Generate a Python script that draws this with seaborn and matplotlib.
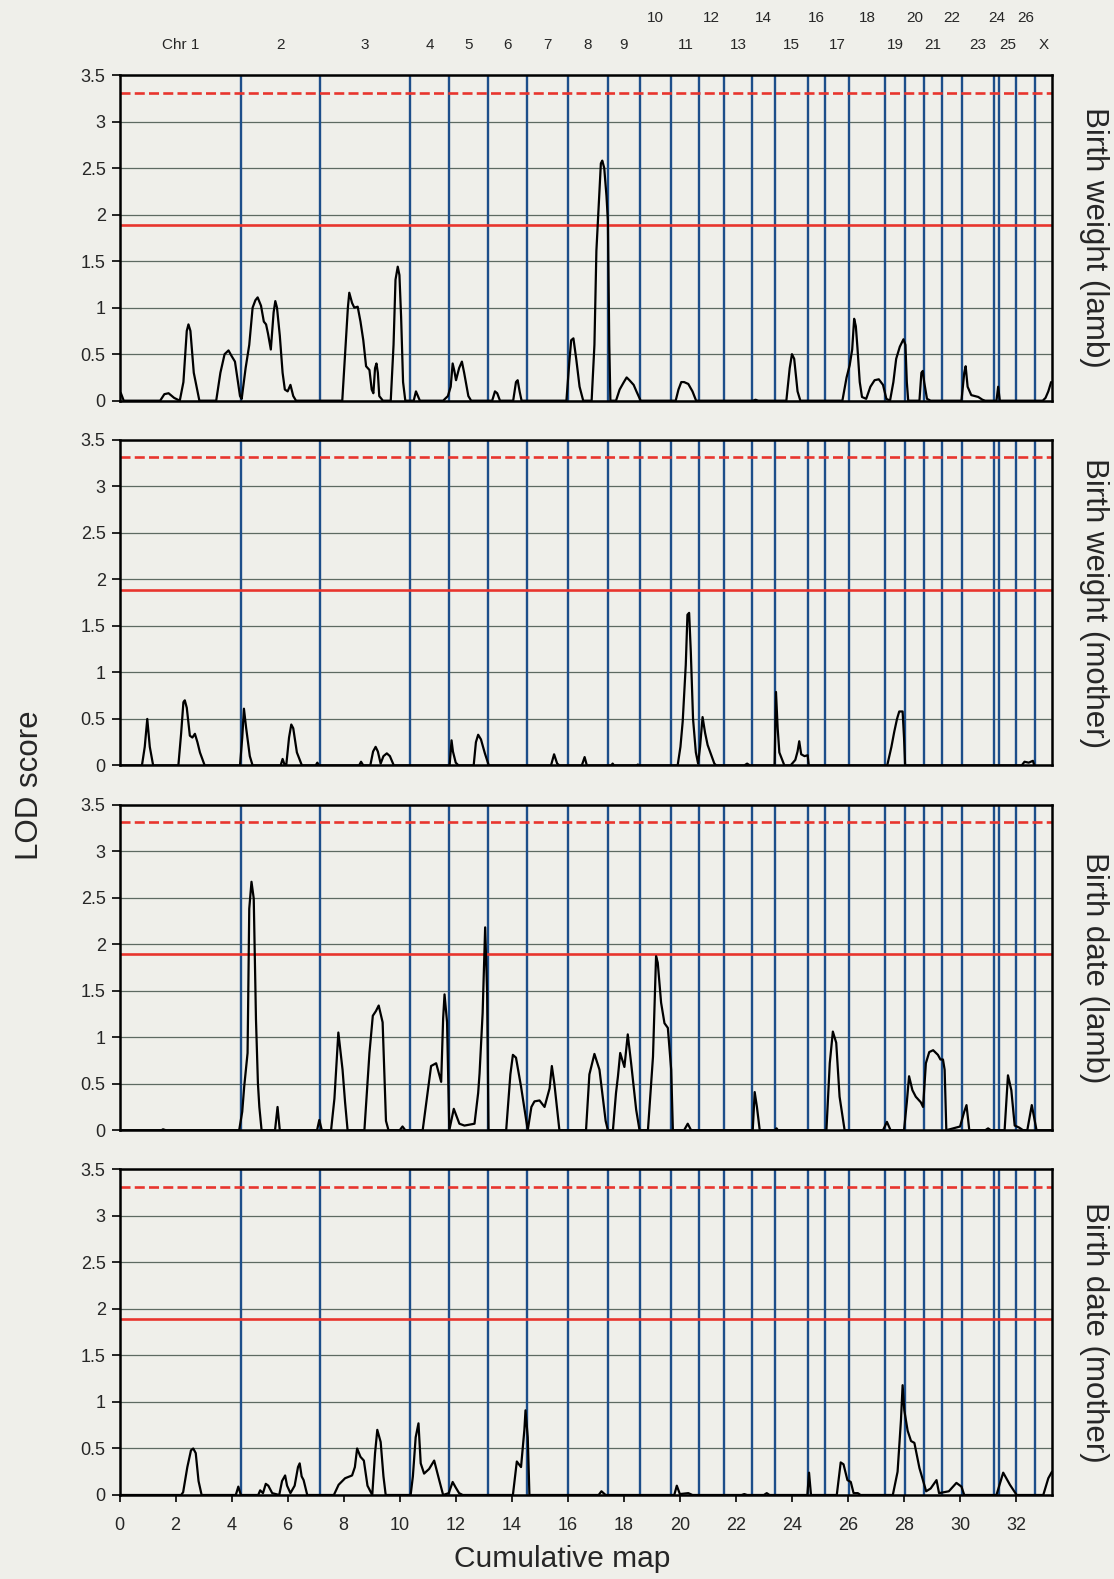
import numpy as np
import pandas as pd
import matplotlib
matplotlib.use("Agg")
import matplotlib.pyplot as plt
import matplotlib.transforms as mtransforms
from matplotlib.ticker import FuncFormatter
import seaborn as sns

# ---------------- data ----------------
chrom_labels = ["Chr 1"] + [str(i) for i in range(2, 27)] + ["X"]
chrom_bounds = [0, 4.33, 7.17, 10.36, 11.77, 13.16, 14.56, 15.99, 17.45, 18.56,
                19.70, 20.69, 21.58, 22.58, 23.40, 24.58, 25.19, 26.04, 27.33,
                28.05, 28.73, 29.34, 30.06, 31.21, 31.39, 31.99, 32.69, 33.28]

traits = ["Birth weight (lamb)", "Birth weight (mother)",
          "Birth date (lamb)", "Birth date (mother)"]

threshold_suggestive = 1.89   # solid red
threshold_significant = 3.31  # dashed red

y_ticks = [0, 0.5, 1, 1.5, 2, 2.5, 3, 3.5]
x_ticks = list(range(0, 33, 2))

lod_bw_lamb = [
    (0, 0.1), (0.05, 0.08), (0.15, 0), (1.45, 0), (1.6, 0.07), (1.75, 0.08), (1.95, 0.03),
    (2.15, 0), (2.28, 0.2), (2.4, 0.75), (2.46, 0.82), (2.53, 0.75), (2.65, 0.3), (2.85, 0),
    (3.45, 0), (3.6, 0.3), (3.75, 0.5), (3.89, 0.54), (4.0, 0.48), (4.12, 0.42), (4.3, 0.05),
    (4.36, 0.02), (4.5, 0.35), (4.63, 0.6), (4.75, 1.0), (4.85, 1.08), (4.93, 1.11), (5.05, 1.02),
    (5.15, 0.85), (5.23, 0.82), (5.3, 0.72), (5.4, 0.55), (5.5, 0.95), (5.56, 1.07), (5.62, 1.0),
    (5.72, 0.7), (5.82, 0.3), (5.9, 0.12), (6.0, 0.1), (6.1, 0.17), (6.2, 0.05), (6.3, 0),
    (7.95, 0), (8.05, 0.5), (8.15, 1.0), (8.2, 1.16), (8.3, 1.05), (8.38, 1.0), (8.5, 1.01),
    (8.6, 0.85), (8.7, 0.65), (8.8, 0.37), (8.92, 0.33), (9.0, 0.12), (9.06, 0.08), (9.12, 0.35),
    (9.17, 0.4), (9.22, 0.3), (9.27, 0.05), (9.4, 0), (9.68, 0), (9.78, 0.6), (9.85, 1.3),
    (9.93, 1.44), (9.99, 1.35), (10.05, 0.9), (10.12, 0.2), (10.2, 0), (10.5, 0), (10.58, 0.1),
    (10.65, 0.05), (10.72, 0), (11.55, 0), (11.72, 0.05), (11.82, 0.15), (11.89, 0.4),
    (11.95, 0.32), (12.01, 0.22), (12.12, 0.35), (12.22, 0.42), (12.3, 0.3), (12.45, 0.05),
    (12.55, 0), (13.3, 0), (13.4, 0.1), (13.48, 0.08), (13.58, 0), (14.05, 0), (14.15, 0.2),
    (14.21, 0.22), (14.28, 0.1), (14.35, 0), (15.95, 0), (16.05, 0.4), (16.12, 0.65),
    (16.2, 0.67), (16.3, 0.45), (16.42, 0.15), (16.55, 0), (16.85, 0), (16.95, 0.6),
    (17.02, 1.61), (17.12, 2.2), (17.18, 2.55), (17.23, 2.58), (17.3, 2.5), (17.38, 2.2),
    (17.43, 1.94), (17.48, 0.6), (17.52, 0), (17.72, 0), (17.85, 0.12), (18.0, 0.2),
    (18.1, 0.25), (18.2, 0.22), (18.35, 0.17), (18.45, 0.1), (18.6, 0), (19.85, 0),
    (19.95, 0.12), (20.05, 0.2), (20.15, 0.2), (20.3, 0.18), (20.45, 0.1), (20.58, 0),
    (22.6, 0), (22.7, 0.01), (22.8, 0), (23.8, 0), (23.92, 0.35), (24.0, 0.5), (24.08, 0.45),
    (24.2, 0.1), (24.3, 0), (25.8, 0), (25.95, 0.25), (26.06, 0.38), (26.15, 0.55),
    (26.22, 0.88), (26.28, 0.8), (26.34, 0.56), (26.42, 0.2), (26.5, 0.04), (26.65, 0.02),
    (26.8, 0.15), (26.95, 0.22), (27.1, 0.23), (27.25, 0.17), (27.37, 0.02), (27.5, 0),
    (27.62, 0.2), (27.72, 0.45), (27.85, 0.58), (27.98, 0.66), (28.05, 0.6), (28.1, 0.2),
    (28.15, 0), (28.55, 0), (28.62, 0.3), (28.67, 0.32), (28.72, 0.2), (28.82, 0.02),
    (28.95, 0), (30.05, 0), (30.15, 0.3), (30.2, 0.37), (30.27, 0.15), (30.4, 0.06),
    (30.65, 0.04), (30.8, 0.01), (30.9, 0), (31.3, 0), (31.36, 0.15), (31.42, 0), (32.95, 0),
    (33.05, 0.03), (33.15, 0.1), (33.25, 0.2),
]

lod_bw_mother = [
    (0, 0), (0.8, 0), (0.9, 0.2), (0.99, 0.5), (1.08, 0.2), (1.2, 0), (2.1, 0), (2.2, 0.35),
    (2.28, 0.68), (2.33, 0.7), (2.4, 0.62), (2.51, 0.32), (2.6, 0.3), (2.69, 0.34),
    (2.78, 0.25), (2.87, 0.14), (3.04, 0), (4.3, 0), (4.38, 0.3), (4.44, 0.61), (4.52, 0.4),
    (4.65, 0.1), (4.75, 0), (5.75, 0), (5.82, 0.07), (5.9, 0), (5.95, 0), (6.05, 0.3),
    (6.13, 0.44), (6.2, 0.4), (6.33, 0.14), (6.51, 0), (7.0, 0), (7.06, 0.03), (7.12, 0),
    (8.55, 0), (8.62, 0.04), (8.7, 0), (8.95, 0), (9.05, 0.15), (9.14, 0.2), (9.22, 0.15),
    (9.32, 0.02), (9.42, 0.1), (9.54, 0.13), (9.65, 0.1), (9.79, 0), (11.78, 0), (11.82, 0.15),
    (11.85, 0.27), (11.9, 0.15), (12.0, 0.03), (12.1, 0), (12.64, 0), (12.72, 0.25),
    (12.8, 0.33), (12.9, 0.28), (13.04, 0.13), (13.18, 0), (15.4, 0), (15.51, 0.12),
    (15.62, 0.02), (15.7, 0), (16.5, 0), (16.6, 0.09), (16.68, 0), (17.55, 0), (17.6, 0.02),
    (17.65, 0), (18.45, 0), (18.5, 0.01), (18.55, 0), (19.92, 0), (20.02, 0.2), (20.1, 0.47),
    (20.21, 1.08), (20.27, 1.62), (20.33, 1.64), (20.39, 1.22), (20.47, 0.5), (20.57, 0.14),
    (20.65, 0.02), (20.72, 0.2), (20.81, 0.52), (20.9, 0.35), (20.99, 0.22), (21.23, 0.02),
    (21.3, 0), (22.3, 0), (22.4, 0.02), (22.5, 0), (23.38, 0), (23.43, 0.79), (23.49, 0.4),
    (23.55, 0.14), (23.73, 0), (23.95, 0), (24.12, 0.06), (24.2, 0.15), (24.26, 0.26),
    (24.33, 0.12), (24.45, 0.1), (24.56, 0.11), (24.6, 0), (27.4, 0), (27.55, 0.2),
    (27.65, 0.36), (27.75, 0.5), (27.83, 0.58), (27.95, 0.58), (28.0, 0.3), (28.04, 0),
    (32.2, 0), (32.3, 0.04), (32.45, 0.03), (32.6, 0.05), (32.65, 0),
]

lod_bd_lamb = [
    (0, 0), (1.5, 0), (1.55, 0.01), (1.65, 0), (4.27, 0), (4.38, 0.2), (4.45, 0.47),
    (4.57, 0.83), (4.63, 2.38), (4.71, 2.67), (4.79, 2.49), (4.87, 1.19), (4.94, 0.5),
    (4.99, 0.25), (5.07, 0), (5.55, 0), (5.64, 0.25), (5.72, 0), (7.05, 0), (7.13, 0.11),
    (7.22, 0), (7.55, 0), (7.67, 0.34), (7.81, 1.05), (7.96, 0.65), (8.05, 0.3), (8.14, 0),
    (8.74, 0), (8.92, 0.83), (9.04, 1.23), (9.15, 1.28), (9.25, 1.34), (9.39, 1.16),
    (9.51, 0.1), (9.6, 0), (10.0, 0), (10.1, 0.04), (10.2, 0), (10.82, 0), (10.95, 0.3),
    (11.12, 0.69), (11.3, 0.72), (11.48, 0.52), (11.55, 1.2), (11.6, 1.46), (11.69, 1.16),
    (11.77, 0), (11.93, 0.23), (12.13, 0.07), (12.31, 0.05), (12.67, 0.07), (12.8, 0.4),
    (12.85, 0.61), (12.96, 1.26), (13.05, 2.18), (13.12, 1.48), (13.17, 0), (13.8, 0),
    (13.95, 0.6), (14.04, 0.81), (14.15, 0.78), (14.33, 0.47), (14.57, 0), (14.7, 0.25),
    (14.81, 0.31), (14.99, 0.32), (15.17, 0.25), (15.35, 0.45), (15.43, 0.69), (15.52, 0.5),
    (15.7, 0), (16.65, 0), (16.77, 0.6), (16.95, 0.82), (17.13, 0.65), (17.35, 0.1),
    (17.43, 0), (17.61, 0), (17.72, 0.4), (17.79, 0.58), (17.87, 0.83), (18.02, 0.68),
    (18.14, 1.03), (18.26, 0.72), (18.44, 0.22), (18.56, 0), (18.86, 0), (19.04, 0.79),
    (19.15, 1.87), (19.21, 1.8), (19.33, 1.37), (19.45, 1.15), (19.57, 1.1), (19.69, 0.65),
    (19.75, 0), (20.15, 0), (20.28, 0.07), (20.4, 0), (22.6, 0), (22.67, 0.41), (22.75, 0.25),
    (22.85, 0), (23.4, 0), (23.45, 0.02), (23.5, 0), (25.23, 0), (25.35, 0.72), (25.46, 1.06),
    (25.58, 0.94), (25.7, 0.36), (25.88, 0), (27.25, 0), (27.39, 0.09), (27.52, 0), (28.0, 0),
    (28.1, 0.3), (28.18, 0.58), (28.3, 0.43), (28.42, 0.36), (28.6, 0.3), (28.68, 0.25),
    (28.78, 0.72), (28.9, 0.84), (29.04, 0.86), (29.21, 0.81), (29.3, 0.76), (29.39, 0.76),
    (29.45, 0.65), (29.51, 0), (30.0, 0.04), (30.15, 0.2), (30.23, 0.27), (30.33, 0),
    (30.9, 0), (31.0, 0.02), (31.1, 0), (31.59, 0), (31.71, 0.59), (31.83, 0.43), (31.95, 0.05),
    (32.1, 0.03), (32.25, 0), (32.4, 0), (32.56, 0.27), (32.73, 0), (33.28, 0),
]

lod_bd_mother = [
    (0, 0), (2.2, 0), (2.27, 0.03), (2.42, 0.3), (2.55, 0.48), (2.63, 0.5), (2.72, 0.45),
    (2.82, 0.15), (2.93, 0), (4.15, 0), (4.24, 0.09), (4.33, 0), (4.95, 0), (5.02, 0.05),
    (5.12, 0.02), (5.22, 0.12), (5.31, 0.1), (5.45, 0.02), (5.7, 0), (5.8, 0.15), (5.91, 0.21),
    (5.98, 0.1), (6.1, 0.02), (6.25, 0.1), (6.37, 0.3), (6.43, 0.34), (6.5, 0.2), (6.57, 0.16),
    (6.7, 0), (7.65, 0), (7.82, 0.11), (8.05, 0.18), (8.3, 0.21), (8.4, 0.3), (8.48, 0.5),
    (8.6, 0.41), (8.72, 0.37), (8.85, 0.1), (9.02, 0), (9.12, 0.45), (9.2, 0.7), (9.32, 0.57),
    (9.42, 0.2), (9.5, 0), (10.39, 0), (10.47, 0.2), (10.57, 0.62), (10.67, 0.77),
    (10.75, 0.34), (10.87, 0.23), (11.05, 0.28), (11.23, 0.37), (11.41, 0.16), (11.55, 0),
    (11.75, 0.02), (11.89, 0.14), (12.0, 0.08), (12.12, 0.02), (12.25, 0), (14.04, 0),
    (14.18, 0.36), (14.33, 0.3), (14.45, 0.7), (14.49, 0.91), (14.57, 0.62), (14.63, 0),
    (17.1, 0), (17.2, 0.04), (17.35, 0), (19.8, 0), (19.89, 0.1), (20.0, 0.01), (20.3, 0.02),
    (20.45, 0), (22.2, 0), (22.3, 0.01), (22.4, 0), (23.0, 0), (23.1, 0.02), (23.2, 0),
    (24.55, 0), (24.61, 0.24), (24.68, 0), (25.6, 0), (25.74, 0.35), (25.84, 0.33),
    (25.98, 0.16), (26.1, 0.14), (26.2, 0.02), (26.35, 0.02), (26.45, 0), (27.6, 0),
    (27.77, 0.25), (27.89, 0.8), (27.95, 1.18), (28.01, 0.91), (28.13, 0.69), (28.25, 0.58),
    (28.37, 0.56), (28.55, 0.29), (28.79, 0.04), (28.95, 0.07), (29.16, 0.16), (29.25, 0.02),
    (29.6, 0.04), (29.87, 0.13), (30.05, 0.09), (30.15, 0), (31.3, 0), (31.54, 0.24),
    (31.78, 0.11), (32.02, 0), (32.97, 0), (33.15, 0.18), (33.28, 0.25),
]

curves = [lod_bw_lamb, lod_bw_mother, lod_bd_lamb, lod_bd_mother]

frames = []
for trait, pts in zip(traits, curves):
    arr = np.array(pts, dtype=float)
    frames.append(pd.DataFrame({"pos": arr[:, 0], "lod": arr[:, 1], "trait": trait}))
df = pd.concat(frames, ignore_index=True)

# ---------------- style ----------------
sns.set_theme(style="white")
plt.rcParams["font.family"] = ["Liberation Sans", "DejaVu Sans"]

paper = "#efefea"
blue = "#1d4e8a"
red = "#e8352e"
gridc = "#5d6a62"

fig, axes = plt.subplots(4, 1, figsize=(11.14, 15.79), dpi=100, sharex=True)
fig.patch.set_facecolor(paper)
fig.subplots_adjust(left=0.1073, right=0.9443, top=0.9525, bottom=0.0532, hspace=0.12)

for i, (ax, trait) in enumerate(zip(axes, traits)):
    ax.set_facecolor(paper)
    sub = df[df["trait"] == trait]
    for b in chrom_bounds[1:-1]:
        ax.axvline(b, color=blue, lw=1.7, zorder=2)
    ax.axhline(threshold_suggestive, color=red, lw=1.9, zorder=3)
    ax.axhline(threshold_significant, color=red, lw=1.9, ls=(0, (3.8, 1.6)), zorder=3)
    sns.lineplot(data=sub, x="pos", y="lod", ax=ax, color="black", lw=1.6,
                 estimator=None, sort=False, zorder=4)
    ax.set_xlim(chrom_bounds[0], chrom_bounds[-1])
    ax.set_ylim(0, 3.5)
    ax.set_yticks(y_ticks)
    ax.yaxis.set_major_formatter(FuncFormatter(lambda v, p: f"{v:g}"))
    ax.grid(axis="y", color=gridc, lw=0.9, zorder=1)
    ax.grid(axis="x", visible=False)
    ax.set_axisbelow(True)
    ax.set_xlabel("")
    ax.set_ylabel("")
    for s in ax.spines.values():
        s.set_color("black")
        s.set_linewidth(1.8)
        s.set_zorder(5)
    ax.tick_params(axis="y", direction="out", length=6, width=1.2, color="black",
                   labelsize=13, pad=4, left=True)
    if i < 3:
        ax.tick_params(axis="x", bottom=False, labelbottom=False)
    pos = ax.get_position()
    fig.text(0.982, (pos.y0 + pos.y1) / 2, trait, rotation=270, ha="center",
             va="center", fontsize=22.5)

axb = axes[-1]
axb.set_xticks(x_ticks)
axb.set_xticklabels([str(t) for t in x_ticks])
axb.tick_params(axis="x", direction="out", length=5, width=1.2, color="black",
                labelsize=13, pad=11, bottom=True, labelbottom=True)

# chromosome labels above top panel
ax0 = axes[0]
trans = mtransforms.blended_transform_factory(ax0.transData, ax0.transAxes)
for k, lab in enumerate(chrom_labels):
    mid = (chrom_bounds[k] + chrom_bounds[k + 1]) / 2
    num = k + 1
    upper = (num >= 10 and num % 2 == 0 and lab != "X")
    ax0.text(mid, 1.175 if upper else 1.091, lab, transform=trans, ha="center",
             va="center", fontsize=11, clip_on=False)

fig.text(30 / 1114, 0.503, "LOD score", rotation=90, ha="center", va="center", fontsize=22.5)
fig.text(0.505, 0.0127, "Cumulative map", ha="center", va="center", fontsize=21.5)

fig.savefig("out.png", dpi=100, facecolor=paper)
